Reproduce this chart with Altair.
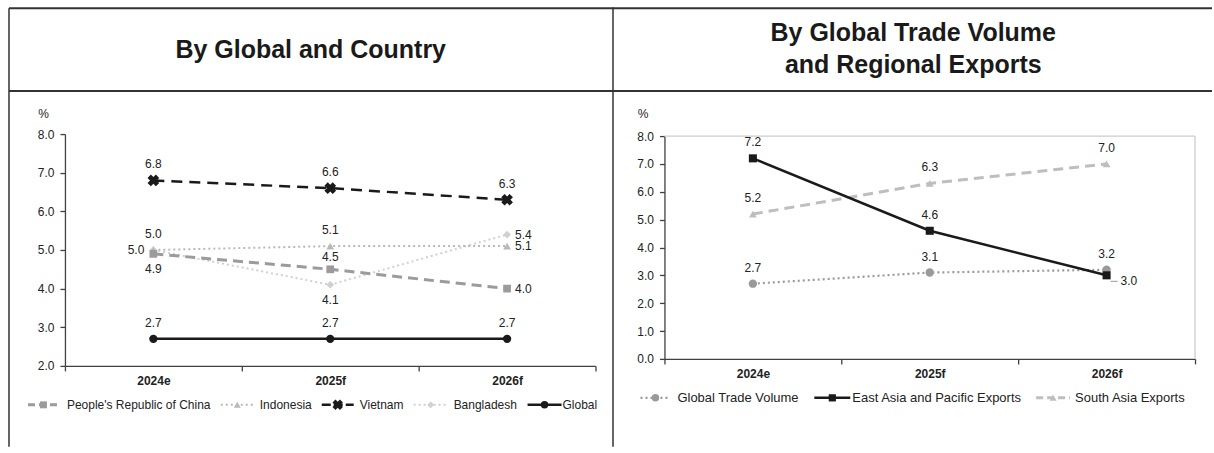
import altair as alt
import pandas as pd

# ---- data -------------------------------------------------------------
years = ["2024e", "2025f", "2026f"]

country_names = ["People's Republic of China", "Indonesia", "Vietnam", "Bangladesh", "Global"]
prc_growth = [4.9, 4.5, 4.0]
indonesia_growth = [5.0, 5.1, 5.1]
vietnam_growth = [6.8, 6.6, 6.3]
bangladesh_growth = [5.0, 4.1, 5.4]
global_growth = [2.7, 2.7, 2.7]
country_values = [prc_growth, indonesia_growth, vietnam_growth, bangladesh_growth, global_growth]

trade_names = ["Global Trade Volume", "East Asia and Pacific Exports", "South Asia Exports"]
global_trade_volume = [2.7, 3.1, 3.2]
east_asia_pacific_exports = [7.2, 4.6, 3.0]
south_asia_exports = [5.2, 6.3, 7.0]
trade_values = [global_trade_volume, east_asia_pacific_exports, south_asia_exports]

left_ticks = [2.0, 3.0, 4.0, 5.0, 6.0, 7.0, 8.0]
right_ticks = [0.0, 1.0, 2.0, 3.0, 4.0, 5.0, 6.0, 7.0, 8.0]

# where each value label sits relative to its marker
country_label_side = [
    ["below", "above_near", "right"],
    ["above", "above", "right"],
    ["above", "above", "above"],
    ["left", "below", "right"],
    ["above", "above", "above"],
]
trade_label_side = [
    ["above", "above", "above"],
    ["above", "above", "leader"],
    ["above", "above", "above"],
]

# ---- styling ----------------------------------------------------------
FONT = "Liberation Sans"
INK = "#222222"
FRAME = "#333333"
AXIS = "#404040"

country_styles = {
    "People's Republic of China": dict(color="#9b9b9b", width=3, dash=[10, 6], shape="square", size=60, angle=0, ldash=[7, 4]),
    "Indonesia": dict(color="#b9b9b9", width=2, dash=[2, 3], shape="triangle-up", size=60, angle=0, ldash=[2, 3]),
    "Vietnam": dict(color="#1a1a1a", width=2.5, dash=[11, 7], shape="cross", size=140, angle=45, ldash=[9, 3]),
    "Bangladesh": dict(color="#d0d0d0", width=2, dash=[2, 3], shape="diamond", size=60, angle=0, ldash=[2, 3]),
    "Global": dict(color="#1a1a1a", width=2.5, dash=None, shape="circle", size=70, angle=0, ldash=None),
}
trade_styles = {
    "Global Trade Volume": dict(color="#9a9a9a", width=2.2, dash=[2, 3], shape="circle", size=70, angle=0, ldash=[2, 3]),
    "East Asia and Pacific Exports": dict(color="#1a1a1a", width=2.5, dash=None, shape="square", size=65, angle=0, ldash=None),
    "South Asia Exports": dict(color="#bebebe", width=3, dash=[10, 6], shape="triangle-up", size=60, angle=0, ldash=[7, 4]),
}

label_offsets = {
    "above": dict(align="center", dx=0, dy=-16),
    "above_near": dict(align="center", dx=0, dy=-12),
    "below": dict(align="center", dx=0, dy=15),
    "left": dict(align="right", dx=-9, dy=0),
    "right": dict(align="left", dx=8, dy=0),
    "leader": dict(align="left", dx=14, dy=6),
}

ONE = alt.Data(values=[{}])


def x_enc():
    return alt.X(
        "year:N",
        scale=alt.Scale(type="band", domain=years, paddingInner=0, paddingOuter=0),
        bandPosition=0.5,
        axis=alt.Axis(
            title=None, labelAngle=0, labelFontWeight="bold", labelFont=FONT,
            labelFontSize=12, labelColor=INK, tickBand="extent", tickSize=5,
            labelPadding=5, domainColor=AXIS, tickColor=AXIS, domainWidth=1.3,
            tickWidth=1.3, grid=False,
        ),
    )


def y_enc(domain, ticks, rng=None):
    scale_args = dict(domain=domain, nice=False, zero=False)
    if rng is not None:
        scale_args["range"] = rng
    return alt.Y(
        "value:Q",
        scale=alt.Scale(**scale_args),
        axis=alt.Axis(
            values=ticks, format=".1f", title="%", titleAngle=0, titleX=-22,
            titleY=-21, titleAlign="center", titleBaseline="middle", titleFont=FONT,
            titleFontSize=12, titleFontWeight="normal", titleColor=INK,
            labelFont=FONT, labelFontSize=12, labelColor=INK, labelPadding=6,
            tickSize=5, domainColor=AXIS, tickColor=AXIS, domainWidth=1.3,
            tickWidth=1.3, grid=False,
        ),
    )


def hrule(x1, x2, y, color=FRAME, width=2):
    return alt.Chart(ONE).mark_rule(color=color, strokeWidth=width).encode(
        x=alt.value(x1), x2=alt.value(x2), y=alt.value(y))


def vrule(x, y1, y2, color=FRAME, width=1.5):
    return alt.Chart(ONE).mark_rule(color=color, strokeWidth=width).encode(
        x=alt.value(x), y=alt.value(y1), y2=alt.value(y2))


def caption(text, x, y, size=25):
    return alt.Chart(ONE).mark_text(
        text=text, font=FONT, fontSize=size, fontWeight="bold", color="#1a1a1a",
        align="center", baseline="middle").encode(x=alt.value(x), y=alt.value(y))


def legend_item(name, st, x1, x2, tx, y, font_size=12):
    line_kw = dict(color=st["color"], strokeWidth=st["width"])
    if st["ldash"]:
        line_kw["strokeDash"] = st["ldash"]
    seg = alt.Chart(ONE).mark_rule(**line_kw).encode(
        x=alt.value(x1), x2=alt.value(x2), y=alt.value(y))
    mark = alt.Chart(ONE).mark_point(
        filled=True, opacity=1, shape=st["shape"], size=st["size"] * 0.8,
        angle=st["angle"], color=st["color"]).encode(
        x=alt.value((x1 + x2) / 2), y=alt.value(y))
    label = alt.Chart(ONE).mark_text(
        text=name, font=FONT, fontSize=font_size, color=INK, align="left",
        baseline="middle").encode(x=alt.value(tx), y=alt.value(y))
    return [seg, mark, label]


def series_layers(names, values, sides, styles, domain, ticks, rng, draw_order):
    rows = []
    for name, vals, sd in zip(names, values, sides):
        for yr, v, s in zip(years, vals, sd):
            rows.append(dict(year=yr, series=name, value=v, side=s))
    df = pd.DataFrame(rows)
    layers = []
    for name in draw_order:
        st = styles[name]
        sub = df[df.series == name]
        line_kw = dict(color=st["color"], strokeWidth=st["width"])
        if st["dash"]:
            line_kw["strokeDash"] = st["dash"]
        layers.append(alt.Chart(sub).mark_line(**line_kw).encode(
            x=x_enc(), y=y_enc(domain, ticks, rng)))
    for name in draw_order:
        st = styles[name]
        sub = df[df.series == name]
        layers.append(alt.Chart(sub).mark_point(
            filled=True, opacity=1, shape=st["shape"], size=st["size"],
            angle=st["angle"], color=st["color"]).encode(
            x=x_enc(), y=y_enc(domain, ticks, rng)))
    for side, off in label_offsets.items():
        sub = df[df.side == side]
        if sub.empty:
            continue
        layers.append(alt.Chart(sub).mark_text(
            font=FONT, fontSize=12, color=INK, baseline="middle", **off).encode(
            x=x_enc(), y=y_enc(domain, ticks, rng),
            text=alt.Text("value:Q", format=".1f")))
    lead = df[df.side == "leader"]
    if not lead.empty:
        layers.append(alt.Chart(lead).mark_rule(
            color="#9a9a9a", strokeWidth=1, xOffset=4, x2Offset=11, yOffset=6,
            y2Offset=6).encode(
            x=x_enc(), x2=alt.X2("year"), y=y_enc(domain, ticks, rng),
            y2=alt.Y2("value")))
    return layers


# ---- left panel: by global and country --------------------------------
LW, LH = 531, 232
left_layers = [
    vrule(-56, -126, 313),
    hrule(-56, 549, -126),
    hrule(-56, 549, -43),
    vrule(548.5, -126, 313),
    caption("By Global and Country", 246, -84),
]
left_layers += series_layers(
    country_names, country_values, country_label_side, country_styles,
    [2, 8], left_ticks, None,
    ["Bangladesh", "Indonesia", "People's Republic of China", "Vietnam", "Global"])
left_legend_x = [(27, 58, 66), (220, 253, 259), (321, 353, 359), (413, 447, 453), (527, 561, 562)]
for name, (a, b, t) in zip(country_names, left_legend_x):
    left_layers += legend_item(name, country_styles[name], a - 64, b - 64, t - 64, 271)

left = alt.layer(*left_layers).properties(width=LW, height=LH)

# ---- right panel: trade volume and regional exports --------------------
RW, RH = 531, 225
right_layers = [
    hrule(-52, 548, -126),
    hrule(-52, 548, -43),
    caption("By Global Trade Volume", 249, -101),
    caption("and Regional Exports", 249, -69),
    hrule(0, RW, 2, color="#cccccc", width=1.3),
    vrule(RW, 2, RH, color="#cccccc", width=1.3),
]
right_layers += series_layers(
    trade_names, trade_values, trade_label_side, trade_styles,
    [0, 8], right_ticks, [RH, 2],
    ["South Asia Exports", "Global Trade Volume", "East Asia and Pacific Exports"])
right_legend_x = [(640, 670, 677), (814, 850, 852), (1036, 1070, 1075)]
for name, (a, b, t) in zip(trade_names, right_legend_x):
    right_layers += legend_item(name, trade_styles[name], a - 664, b - 664, t - 664, 264, 13)

right = alt.layer(*right_layers).properties(width=RW, height=RH)

chart = alt.hconcat(left, right, spacing=69, bounds="flush").properties(
    padding={"left": 7, "top": 6, "right": 0, "bottom": 0}
).configure_view(stroke="transparent")

chart.save("out.html", embed_options={"renderer": "svg", "actions": False})
